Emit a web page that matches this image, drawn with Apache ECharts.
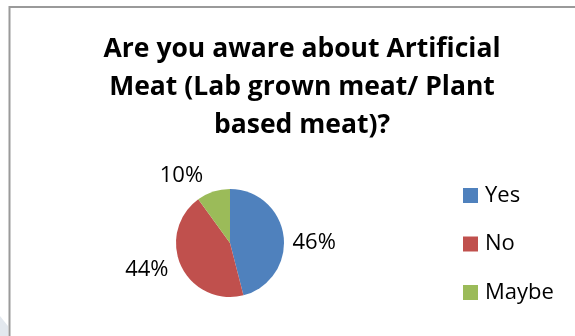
<!DOCTYPE html>
<html>
<head>
<meta charset="utf-8">
<script src="https://cdn.jsdelivr.net/npm/echarts@6/dist/echarts.min.js"></script>
<style>
  html, body { margin: 0; padding: 0; background: #ffffff; }
  #chart { width: 575px; height: 336px; }
</style>
</head>
<body>
<div id="chart"></div>
<script>
// Survey answers: awareness of artificial meat
const categories = ['Yes', 'No', 'Maybe'];
const shares = [46, 44, 10];
const colors = ['#4F81BD', '#C0504D', '#9BBB59'];
const titleText = 'Are you aware about Artificial\nMeat (Lab grown meat/ Plant\nbased meat)?';

// small nudges for the percentage labels around the pie
const labelNudge = [[0, 7], [-4, 2], [-4, -12]];

const chart = echarts.init(document.getElementById('chart'), null, { renderer: 'canvas' });

chart.setOption({
  animation: false,
  backgroundColor: '#ffffff',
  color: colors,
  title: {
    text: titleText,
    left: 297,
    top: 25,
    textAlign: 'center',
    textStyle: {
      fontFamily: 'Open Sans',
      fontWeight: 'bold',
      fontSize: 26.5,
      lineHeight: 38,
      color: '#000000'
    }
  },
  legend: {
    orient: 'vertical',
    left: 463,
    top: 184.5,
    padding: 0,
    itemWidth: 15,
    itemHeight: 15,
    itemGap: 26.5,
    icon: 'rect',
    textStyle: {
      fontFamily: 'Open Sans',
      fontSize: 22,
      padding: [0, 0, 0, 2],
      color: '#000000'
    },
    data: categories
  },
  graphic: [
    {
      type: 'rect',
      shape: { x: 9.5, y: 7, width: 600, height: 400 },
      style: { fill: 'none', stroke: '#9a9a9a', lineWidth: 2 },
      silent: true
    },
    {
      type: 'polygon',
      shape: { points: [[0, 316], [8, 326], [8, 336], [0, 336]] },
      style: { fill: '#e3e8ee' },
      silent: true
    }
  ],
  series: [{
    type: 'pie',
    center: [230, 243],
    radius: 54,
    startAngle: 90,
    clockwise: true,
    avoidLabelOverlap: false,
    label: {
      show: true,
      position: 'outside',
      formatter: '{d}%',
      fontFamily: 'Open Sans',
      fontSize: 22,
      color: '#000000'
    },
    labelLine: { show: false, length: 4, length2: 0 },
    labelLayout: function (p) {
      const n = labelNudge[p.dataIndex];
      return { dx: n[0], dy: n[1] };
    },
    itemStyle: { borderWidth: 0 },
    emphasis: { disabled: true },
    data: categories.map((name, i) => ({ name: name, value: shares[i] }))
  }]
});
</script>
</body>
</html>
